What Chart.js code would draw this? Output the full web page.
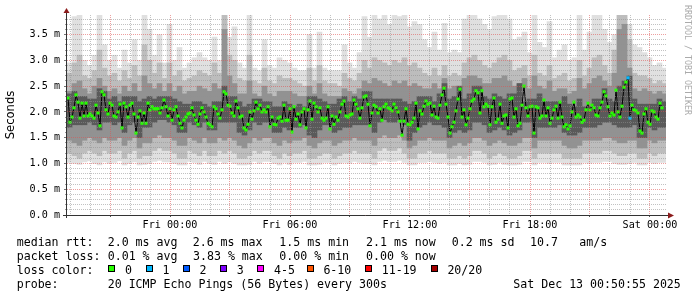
<!DOCTYPE html>
<html>
<head>
<meta charset="utf-8">
<script src="https://cdn.jsdelivr.net/npm/chart.js@4.4.1/dist/chart.umd.min.js"></script>
<style>
  body { margin: 0; background: #fff; }
  #wrap { position: relative; width: 697px; height: 297px; overflow: hidden;
          font-family: "DejaVu Sans Mono", monospace; font-size: 11.6px; color: #000; }
  #chart { position: absolute; left: 0; top: 0; }
  .t { position: absolute; white-space: pre; line-height: 14px; }
  .box { position: absolute; width: 5px; height: 5px; border: 1px solid #000; top: 265px; }
  #credit { position: absolute; left: 683px; top: 5px; writing-mode: vertical-rl;
            font-size: 8.3px; line-height: 9px; color: #aaa; white-space: pre; }
</style>
</head>
<body>
<div id="wrap">
  <canvas id="chart" width="697" height="297"></canvas>
  <div id="credit">RRDTOOL / TOBI OETIKER</div>

  <div class="t" style="left:16.7px;top:235px">median rtt:</div>
  <div class="t" style="left:107.7px;top:235px">2.0 ms avg</div>
  <div class="t" style="left:192.7px;top:235px">2.6 ms max</div>
  <div class="t" style="left:279.3px;top:235px">1.5 ms min</div>
  <div class="t" style="left:366px;top:235px">2.1 ms now</div>
  <div class="t" style="left:451.7px;top:235px">0.2 ms sd</div>
  <div class="t" style="left:530px;top:235px">10.7</div>
  <div class="t" style="left:579.3px;top:235px">am/s</div>

  <div class="t" style="left:16.7px;top:249px">packet loss:</div>
  <div class="t" style="left:107.7px;top:249px">0.01 % avg</div>
  <div class="t" style="left:193px;top:249px">3.83 % max</div>
  <div class="t" style="left:279.3px;top:249px">0.00 % min</div>
  <div class="t" style="left:366px;top:249px">0.00 % now</div>

  <div class="t" style="left:16.7px;top:263px">loss color:</div>
  <div id="lossLegend"></div>

  <div class="t" style="left:16.7px;top:277px">probe:</div>
  <div class="t" style="left:107.7px;top:277px">20 ICMP Echo Pings (56 Bytes) every 300s</div>
  <div class="t" style="left:513.3px;top:277px">Sat Dec 13 00:50:55 2025</div>
</div>

<script>
// hours are counted from Fri 00:00
// median rtt (ms), one sample every 6 minutes
const medianStart = -5.1;
const medianStep = 0.1;
const median = [
  2.27,1.80,1.90,2.08,2.33,2.19,1.88,2.17,1.92,2.17,1.92,1.96,1.92,1.88,2.13,1.98,1.73,2.39,2.33,2.04,
  1.96,2.17,2.13,1.92,1.90,2.00,2.15,1.69,2.17,2.10,1.90,2.13,2.17,1.96,1.59,1.90,2.02,1.78,1.98,1.78,
  2.17,2.04,2.10,2.06,2.06,2.06,1.98,2.08,2.23,2.10,1.92,2.06,1.84,2.04,2.10,1.92,1.78,1.69,1.84,1.90,
  1.96,1.98,2.08,1.94,1.84,1.76,1.96,2.08,2.00,1.90,1.78,1.75,1.71,2.10,2.06,1.96,1.88,2.04,2.39,2.35,
  2.13,2.11,1.98,1.92,2.21,2.08,1.90,1.92,1.69,1.65,1.76,2.00,1.86,2.02,2.19,2.06,2.13,2.00,2.04,2.00,
  2.10,1.71,1.90,1.76,1.75,1.88,1.90,1.82,2.13,1.84,1.84,2.06,1.61,2.10,1.86,1.96,1.75,2.00,2.06,1.69,
  2.04,2.21,1.86,2.17,2.10,2.00,2.08,1.88,1.84,1.88,2.10,1.67,1.92,1.76,1.90,1.84,2.00,2.15,2.21,1.92,
  1.90,1.94,1.96,2.23,2.15,2.06,1.88,2.08,2.29,2.31,2.15,1.73,1.98,2.13,2.10,1.98,2.06,1.84,2.10,2.15,
  2.08,2.06,2.02,2.15,2.08,2.00,1.82,1.55,1.82,2.06,1.76,1.75,1.80,1.88,2.17,1.67,2.02,1.96,2.11,2.21,
  2.15,2.17,1.94,2.11,1.90,1.88,2.13,2.33,2.46,2.15,1.90,1.59,1.71,1.80,2.02,2.25,2.44,1.90,2.04,1.75,
  1.88,2.06,2.21,2.25,2.41,2.37,1.98,2.41,2.10,2.15,2.11,1.75,2.10,2.27,1.80,1.86,2.15,1.78,1.92,1.94,
  1.69,2.25,2.27,1.90,2.06,1.73,1.78,2.13,2.50,2.08,1.92,2.10,2.11,1.59,2.10,2.08,1.88,1.92,2.23,1.92,
  2.08,1.78,1.88,2.04,2.11,1.88,2.19,1.90,1.71,1.75,1.67,1.73,2.00,2.19,1.90,1.94,1.90,1.80,1.84,2.04,
  2.17,2.04,2.13,2.08,1.94,1.92,2.08,2.19,2.39,2.31,2.10,1.92,1.98,1.94,2.42,2.00,1.90,2.11,2.48,2.58,
  2.66,1.88,2.13,2.04,2.02,1.98,1.63,1.59,1.96,2.06,1.80,1.76,2.02,2.00,1.90,1.86,2.17,2.08
];
// samples that lost pings (index into median) and how many of 20 were lost
const lossIndex = [280, 281];
const lossCount = [1, 1];

// smoke: spread of the 20 pings, one column every 15 minutes
const smokeStart = -5.025;
const smokeStep = 0.25;
const smokeMax = [
  2.95,3.85,3.88,3.00,2.90,3.10,3.88,3.30,3.00,3.10, 2.85,3.20,2.95,3.40,3.00,3.88,3.60,3.10,3.50,2.95,
  3.70,3.00,3.25,2.85,2.95,3.05,3.15,3.05,3.00,3.45, 3.00,3.88,3.45,3.65,2.95,2.85,3.88,2.85,2.80,3.40,
  2.90,2.85,3.05,3.00,2.95,2.85,2.80,2.80,3.50,2.85, 3.55,2.85,2.80,2.80,2.80,3.30,2.95,2.85,3.15,3.85,
  3.45,3.88,3.80,3.88,3.70,3.88,3.85,3.88,3.65,3.75, 3.70,3.40,3.25,3.55,3.20,3.72,3.15,3.20,3.15,3.80,
  3.88,3.88,3.80,3.70,3.60,3.85,3.88,3.88,3.80,3.40, 3.45,3.55,3.15,3.88,3.35,3.25,3.75,3.05,3.20,3.30,
  3.00,3.05,3.88,3.20,3.55,3.88,3.88,3.60,3.35,3.50, 3.88,3.88,3.70,3.30,3.25,3.15,3.05,2.90,2.95,2.85
];
const smokeHi = [
  2.75,2.95,3.10,2.70,2.65,2.80,3.20,2.85,2.70,2.75, 2.60,2.80,2.65,2.90,2.70,3.30,3.00,2.75,2.95,2.65,
  2.95,2.70,2.80,2.60,2.65,2.70,2.80,2.75,2.70,2.95, 2.75,3.88,3.10,3.00,2.65,2.60,3.10,2.60,2.55,2.85,
  2.60,2.55,2.70,2.65,2.65,2.60,2.55,2.50,2.85,2.60, 2.90,2.60,2.55,2.55,2.50,2.75,2.65,2.60,2.75,3.00,
  2.85,3.05,3.00,2.95,2.90,3.00,2.95,3.05,2.90,2.95, 2.85,2.75,2.70,2.85,2.70,2.90,2.70,2.75,2.70,2.95,
  3.05,3.10,3.00,2.90,2.85,2.95,3.05,3.10,3.00,2.80, 2.85,2.90,2.70,3.10,2.75,2.70,2.90,2.65,2.70,2.75,
  2.60,2.65,3.00,2.70,2.85,3.05,3.10,2.90,2.75,3.20, 3.88,3.88,3.40,2.75,2.70,2.70,2.65,2.55,2.60,2.55
];
const smokeMidHi = [
  2.40,2.55,2.60,2.45,2.35,2.50,2.65,2.50,2.40,2.45, 2.35,2.50,2.40,2.55,2.40,2.70,2.55,2.45,2.55,2.40,
  2.55,2.40,2.50,2.35,2.40,2.40,2.50,2.45,2.40,2.55, 2.45,3.60,2.70,2.55,2.35,2.35,2.60,2.35,2.30,2.50,
  2.35,2.30,2.40,2.40,2.40,2.35,2.30,2.30,2.50,2.35, 2.55,2.35,2.30,2.30,2.30,2.45,2.40,2.35,2.45,2.60,
  2.55,2.65,2.60,2.55,2.50,2.60,2.55,2.60,2.50,2.55, 2.50,2.45,2.45,2.55,2.45,2.65,2.45,2.50,2.45,2.65,
  2.70,2.70,2.65,2.55,2.55,2.65,2.65,2.70,2.60,2.50, 2.55,2.65,2.45,2.70,2.50,2.45,2.60,2.40,2.45,2.45,
  2.35,2.40,2.65,2.45,2.55,2.65,2.70,2.60,2.50,2.75, 3.60,3.70,2.85,2.45,2.40,2.45,2.40,2.35,2.40,2.35
];
const smokeCoreHi = [
  2.35,2.40,2.30,2.30,2.25,2.25,2.45,2.40,2.25,2.30, 2.20,2.30,2.30,2.30,2.20,2.25,2.30,2.25,2.30,2.30,
  2.30,2.25,2.20,2.15,2.15,2.20,2.20,2.15,2.10,2.20, 2.20,2.50,2.30,2.30,2.20,2.10,2.15,2.25,2.25,2.20,
  2.20,2.10,2.10,2.20,2.15,2.10,2.15,2.10,2.30,2.30, 2.25,2.20,2.15,2.15,2.25,2.30,2.20,2.30,2.25,2.40,
  2.40,2.25,2.25,2.25,2.25,2.25,2.25,2.20,2.15,2.20, 2.30,2.30,2.30,2.20,2.35,2.55,2.25,2.30,2.50,2.25,
  2.35,2.50,2.50,2.30,2.25,2.35,2.30,2.25,2.35,2.35, 2.55,2.20,2.25,2.25,2.35,2.20,2.20,2.20,2.20,2.30,
  2.15,2.10,2.25,2.10,2.10,2.25,2.25,2.45,2.25,2.20, 2.50,2.60,2.70,2.25,2.15,2.15,2.15,2.15,2.25,2.20
];
const smokeCoreLo = [
  1.70,1.75,1.75,1.75,1.80,1.75,1.65,1.80,1.80,1.75, 1.80,1.60,1.75,1.80,1.50,1.70,1.70,1.80,1.85,1.85,
  1.80,1.75,1.60,1.60,1.80,1.75,1.70,1.80,1.65,1.65, 1.80,1.80,1.80,1.80,1.60,1.55,1.65,1.80,1.75,1.80,
  1.80,1.60,1.60,1.70,1.65,1.70,1.70,1.75,1.55,1.50, 1.65,1.75,1.75,1.60,1.65,1.70,1.70,1.75,1.75,1.75,
  1.75,1.60,1.80,1.85,1.80,1.80,1.85,1.75,1.45,1.60, 1.70,1.75,1.80,1.75,1.75,1.70,1.50,1.60,1.65,1.60,
  1.65,1.80,1.80,1.75,1.60,1.65,1.70,1.65,1.55,1.60, 1.65,1.80,1.80,1.50,1.70,1.70,1.70,1.70,1.75,1.60,
  1.55,1.55,1.60,1.70,1.70,1.70,1.75,1.80,1.80,1.75, 1.70,1.70,1.70,1.75,1.50,1.50,1.70,1.65,1.70,1.70
];
const smokeMidLo = [
  1.45,1.40,1.35,1.45,1.50,1.45,1.40,1.50,1.45,1.45, 1.50,1.35,1.45,1.50,1.30,1.40,1.40,1.50,1.55,1.50,
  1.50,1.45,1.35,1.35,1.50,1.45,1.40,1.50,1.40,1.40, 1.50,1.45,1.50,1.45,1.35,1.30,1.40,1.50,1.45,1.50,
  1.50,1.40,1.35,1.45,1.40,1.45,1.45,1.50,1.35,1.30, 1.40,1.45,1.45,1.35,1.40,1.45,1.45,1.50,1.45,1.45,
  1.45,1.35,1.50,1.55,1.50,1.50,1.55,1.45,1.30,1.35, 1.45,1.45,1.50,1.45,1.45,1.45,1.30,1.35,1.40,1.35,
  1.40,1.50,1.50,1.45,1.35,1.40,1.45,1.40,1.35,1.35, 1.40,1.50,1.50,1.30,1.45,1.45,1.45,1.45,1.45,1.35,
  1.30,1.30,1.35,1.45,1.45,1.45,1.45,1.50,1.50,1.45, 1.40,1.40,1.45,1.45,1.30,1.30,1.45,1.40,1.45,1.45
];
const smokeLo = [
  1.20,1.15,1.10,1.20,1.25,1.20,1.15,1.25,1.20,1.20, 1.25,1.10,1.20,1.25,1.10,1.15,1.15,1.25,1.30,1.25,
  1.25,1.20,1.10,1.10,1.25,1.20,1.15,1.25,1.15,1.15, 1.25,1.20,1.25,1.20,1.10,1.10,1.15,1.25,1.20,1.25,
  1.25,1.15,1.10,1.20,1.15,1.20,1.20,1.25,1.10,1.10, 1.15,1.20,1.20,1.10,1.15,1.20,1.20,1.25,1.20,1.20,
  1.20,1.10,1.25,1.30,1.25,1.25,1.30,1.20,1.10,1.10, 1.20,1.20,1.25,1.20,1.20,1.20,1.10,1.10,1.15,1.10,
  1.15,1.25,1.25,1.20,1.10,1.15,1.20,1.15,1.10,1.10, 1.15,1.25,1.25,1.10,1.20,1.20,1.20,1.20,1.20,1.10,
  1.10,1.10,1.10,1.20,1.20,1.20,1.20,1.25,1.25,1.20, 1.15,1.15,1.20,1.20,1.10,1.10,1.20,1.15,1.20,1.20
];
const smokeMin = [
  1.02,1.00,0.98,1.03,1.05,1.00,0.97,1.03,1.00,1.02, 1.05,0.97,1.00,1.03,0.97,0.98,1.00,1.04,1.06,1.03,
  1.03,1.00,0.97,0.97,1.04,1.02,0.98,1.04,1.00,0.98, 1.04,1.00,1.03,1.00,0.97,0.97,0.98,1.04,1.00,1.04,
  1.04,1.00,0.97,1.02,0.98,1.02,1.02,1.04,0.97,0.97, 0.98,1.02,1.02,0.97,1.00,1.02,1.00,1.04,1.02,1.00,
  1.00,0.97,1.04,1.06,1.04,1.04,1.06,1.02,0.97,0.97, 1.02,1.02,1.04,1.02,1.00,1.02,0.97,0.97,1.00,0.97,
  0.98,1.04,1.04,1.02,0.97,0.98,1.02,0.98,0.97,0.97, 0.98,1.04,1.04,0.97,1.02,1.02,1.00,1.02,1.02,0.97,
  0.97,0.97,0.97,1.02,1.00,1.02,1.02,1.04,1.04,1.00, 0.98,0.98,1.00,1.02,0.97,0.97,1.02,1.00,1.02,1.02
];

const yTicks = [0, 0.5, 1.0, 1.5, 2.0, 2.5, 3.0, 3.5];
const xTickHours = [-3, 0, 3, 6, 9, 12, 15, 18, 21, 24];
const xTickLabels = ['', 'Fri 00:00', '', 'Fri 06:00', '', 'Fri 12:00', '', 'Fri 18:00', '', 'Sat 00:00'];

const lossLabels = ['0', '1', '2', '3', '4-5', '6-10', '11-19', '20/20'];
const lossColors = ['#26ff00', '#00b8ff', '#0059ff', '#7e00ff', '#ff00ff', '#ff5500', '#ff0000', '#a10000'];

// legend row for the loss colours
const boxX = [108.3, 145.7, 182.7, 220, 257.3, 306.7, 365, 430.7];
const lossLegend = document.getElementById('lossLegend');
lossLabels.forEach((label, i) => {
  const box = document.createElement('div');
  box.className = 'box';
  box.style.left = boxX[i] + 'px';
  box.style.background = lossColors[i];
  lossLegend.appendChild(box);
  const txt = document.createElement('div');
  txt.className = 't';
  txt.style.left = (boxX[i] + 16.7) + 'px';
  txt.style.top = '263px';
  txt.textContent = label;
  lossLegend.appendChild(txt);
});

function pointColor(i) {
  const k = lossIndex.indexOf(i);
  if (k < 0) return lossColors[0];
  const n = lossCount[k];
  const c = n >= 20 ? 7 : n >= 11 ? 6 : n >= 6 ? 5 : n >= 4 ? 4 : n;
  return lossColors[c];
}

function band(lo, hi) {
  return lo.map((v, i) => ({ x: smokeStart + i * smokeStep, y: [v, hi[i]] }));
}

const minorGrid = 'rgba(143,143,143,0.55)';
const majorGrid = 'rgba(222,80,80,0.55)';
const tickFont = { family: 'DejaVu Sans Mono', size: 10.15 };

// axis lines with the little arrow heads
const axisArrows = {
  id: 'axisArrows',
  afterDraw(chart) {
    const { ctx, chartArea: a } = chart;
    ctx.save();
    ctx.strokeStyle = '#333';
    ctx.lineWidth = 1;
    ctx.beginPath();
    ctx.moveTo(a.left - 0.5, a.bottom + 3);
    ctx.lineTo(a.left - 0.5, a.top - 3);
    ctx.moveTo(a.left - 4, a.bottom + 0.5);
    ctx.lineTo(a.right + 2, a.bottom + 0.5);
    ctx.stroke();
    ctx.fillStyle = '#8c1c1c';
    ctx.beginPath();
    ctx.moveTo(a.left - 0.5, a.top - 7);
    ctx.lineTo(a.left - 3.5, a.top - 2);
    ctx.lineTo(a.left + 2.5, a.top - 2);
    ctx.closePath();
    ctx.fill();
    ctx.beginPath();
    ctx.moveTo(a.right + 8, a.bottom + 0.5);
    ctx.lineTo(a.right + 2, a.bottom - 2.5);
    ctx.lineTo(a.right + 2, a.bottom + 3.5);
    ctx.closePath();
    ctx.fill();
    ctx.restore();
  }
};

new Chart(document.getElementById('chart'), {
  type: 'bar',
  data: {
    datasets: [
      {
        type: 'line',
        data: median.map((v, i) => ({ x: medianStart + i * medianStep, y: v })),
        borderColor: '#000',
        borderWidth: 1,
        pointStyle: 'rect',
        pointRadius: 2.2,
        pointBorderWidth: 0,
        pointBackgroundColor: (ctx) => pointColor(ctx.dataIndex),
        order: 0
      },
      { data: band(smokeCoreLo, smokeCoreHi), backgroundColor: '#5a5a5a', order: 1 },
      { data: band(smokeMidLo, smokeMidHi), backgroundColor: '#929292', order: 2 },
      { data: band(smokeLo, smokeHi), backgroundColor: '#bdbdbd', order: 3 },
      { data: band(smokeMin, smokeMax), backgroundColor: '#e0e0e0', order: 4 }
    ]
  },
  options: {
    responsive: false,
    animation: false,
    devicePixelRatio: 1,
    layout: { padding: { left: 0, top: 15, right: 31, bottom: 62 } },
    plugins: { legend: { display: false }, tooltip: { enabled: false } },
    datasets: {
      bar: { grouped: false, barPercentage: 1, categoryPercentage: 1, borderWidth: 0 }
    },
    scales: {
      x: {
        type: 'linear', axis: 'x', position: 'bottom', weight: 1,
        min: -5.15, max: 24.8, offset: false,
        afterBuildTicks: (s) => { s.ticks = xTickHours.map((v) => ({ value: v })); },
        afterFit: (s) => { s.height = 20; },
        ticks: {
          callback: (v, i) => xTickLabels[i],
          autoSkip: false, maxRotation: 0, padding: 2, color: '#000', font: tickFont
        },
        grid: { offset: false, z: 1, color: majorGrid, tickLength: 2, tickColor: '#555' },
        border: { display: false, dash: [1, 1] }
      },
      x2: {
        type: 'linear', axis: 'x', position: 'bottom', weight: 0,
        min: -5.15, max: 24.8, offset: false,
        afterBuildTicks: (s) => {
          const t = [];
          for (let h = -5; h <= 24; h++) if (h % 3 !== 0) t.push({ value: h });
          s.ticks = t;
        },
        afterFit: (s) => { s.height = 0; },
        ticks: { display: false },
        grid: { offset: false, z: 1, color: minorGrid, drawTicks: false },
        border: { display: false, dash: [1, 1] }
      },
      y: {
        type: 'linear', axis: 'y', position: 'left', weight: 1,
        min: 0, max: 3.88,
        afterBuildTicks: (s) => { s.ticks = yTicks.map((v) => ({ value: v })); },
        afterFit: (s) => { s.width = 67; },
        ticks: {
          callback: (v) => v.toFixed(1) + ' m',
          padding: 4, color: '#000', font: tickFont
        },
        grid: { z: 1, color: majorGrid, tickLength: 3, tickColor: '#777' },
        border: { display: false, dash: [1, 1] },
        title: {
          display: true, text: 'Seconds', color: '#000',
          font: { family: 'DejaVu Sans', size: 11.6 }, padding: { top: 4, bottom: 0 }
        }
      },
      y2: {
        type: 'linear', axis: 'y', position: 'left', weight: 0,
        min: 0, max: 3.88,
        afterBuildTicks: (s) => {
          const t = [];
          for (let k = 1; k <= 38; k++) if (k % 5 !== 0) t.push({ value: k / 10 });
          s.ticks = t;
        },
        afterFit: (s) => { s.width = 0; },
        ticks: { display: false },
        grid: { z: 1, color: minorGrid, tickLength: 2, tickColor: '#999' },
        border: { display: false, dash: [1, 1] }
      }
    }
  },
  plugins: [axisArrows]
});
</script>
</body>
</html>
